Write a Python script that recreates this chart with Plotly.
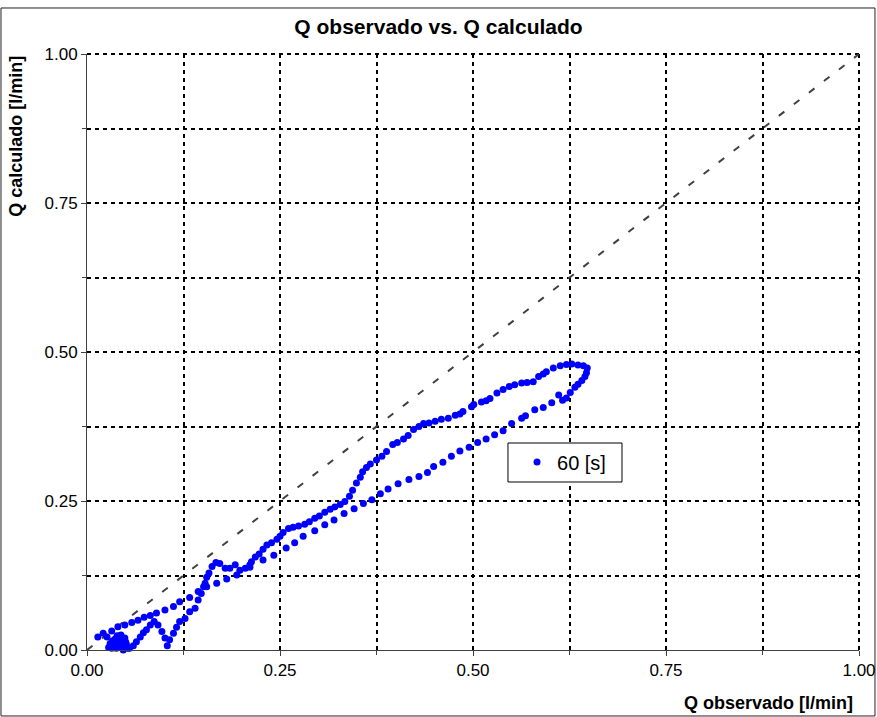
import plotly.graph_objects as go

# Q observado vs. Q calculado, serie "60 [s]"
# rama de subida (puntos espaciados)
obs_up = [0.014, 0.021, 0.032, 0.040, 0.049, 0.058, 0.066, 0.074, 0.082, 0.090,
          0.101, 0.112, 0.120, 0.133, 0.144, 0.155, 0.168, 0.181, 0.194, 0.211,
          0.228, 0.242, 0.258, 0.269, 0.280, 0.295, 0.308, 0.320, 0.333, 0.346,
          0.358, 0.369, 0.380, 0.390, 0.403, 0.417, 0.430, 0.441, 0.449, 0.461,
          0.472, 0.483, 0.495, 0.506, 0.517, 0.528, 0.539, 0.550, 0.563, 0.568,
          0.580, 0.591, 0.602, 0.611, 0.616, 0.621, 0.626, 0.632, 0.636, 0.641,
          0.645, 0.647, 0.648]
calc_up = [0.022, 0.028, 0.032, 0.039, 0.042, 0.046, 0.050, 0.055, 0.058, 0.062,
           0.067, 0.073, 0.081, 0.088, 0.098, 0.106, 0.112, 0.119, 0.126, 0.139,
           0.151, 0.159, 0.171, 0.180, 0.191, 0.200, 0.210, 0.218, 0.229, 0.237,
           0.246, 0.252, 0.262, 0.270, 0.279, 0.286, 0.291, 0.298, 0.308, 0.315,
           0.325, 0.334, 0.340, 0.348, 0.354, 0.361, 0.368, 0.380, 0.389, 0.393,
           0.403, 0.407, 0.415, 0.428, 0.419, 0.423, 0.432, 0.441, 0.446, 0.452,
           0.459, 0.465, 0.473]

# rama de bajada (puntos densos)
obs_down = [0.643, 0.636, 0.628, 0.621, 0.613, 0.604, 0.595, 0.591, 0.585, 0.578,
            0.570, 0.563, 0.554, 0.547, 0.539, 0.531, 0.522, 0.517, 0.511, 0.501,
            0.498, 0.487, 0.483, 0.477, 0.468, 0.459, 0.451, 0.443, 0.436, 0.430,
            0.423, 0.416, 0.410, 0.402, 0.396, 0.388, 0.382, 0.375, 0.367, 0.362,
            0.357, 0.354, 0.349, 0.344, 0.340, 0.334, 0.328, 0.321, 0.315, 0.308,
            0.301, 0.295, 0.288, 0.282, 0.274, 0.267, 0.261, 0.254, 0.250, 0.246,
            0.239, 0.233, 0.228, 0.223, 0.218, 0.213, 0.211, 0.205, 0.198, 0.192,
            0.185, 0.179, 0.172, 0.167, 0.162, 0.158, 0.155, 0.153, 0.151, 0.148,
            0.144, 0.140, 0.133, 0.127, 0.120, 0.116, 0.112, 0.107, 0.104, 0.101,
            0.097, 0.092, 0.087, 0.082, 0.077, 0.073, 0.069, 0.064, 0.060, 0.055,
            0.053, 0.051, 0.049, 0.047, 0.045, 0.041, 0.038, 0.036, 0.034, 0.032,
            0.030, 0.026, 0.028, 0.035, 0.043, 0.050, 0.030, 0.033, 0.037, 0.040,
            0.043, 0.046, 0.048, 0.039, 0.044]
calc_down = [0.477, 0.478, 0.480, 0.479, 0.477, 0.473, 0.467, 0.463, 0.459, 0.450,
             0.449, 0.448, 0.445, 0.442, 0.437, 0.431, 0.422, 0.418, 0.416, 0.412,
             0.408, 0.400, 0.396, 0.394, 0.389, 0.387, 0.384, 0.381, 0.380, 0.375,
             0.370, 0.360, 0.354, 0.348, 0.345, 0.333, 0.325, 0.319, 0.312, 0.306,
             0.299, 0.290, 0.280, 0.268, 0.258, 0.249, 0.244, 0.240, 0.236, 0.231,
             0.225, 0.221, 0.215, 0.211, 0.208, 0.206, 0.204, 0.197, 0.191, 0.186,
             0.180, 0.176, 0.169, 0.161, 0.156, 0.148, 0.143, 0.137, 0.134, 0.143,
             0.137, 0.137, 0.145, 0.147, 0.140, 0.129, 0.122, 0.112, 0.106, 0.095,
             0.084, 0.070, 0.064, 0.053, 0.048, 0.038, 0.028, 0.017, 0.007, 0.020,
             0.031, 0.042, 0.048, 0.042, 0.034, 0.029, 0.022, 0.014, 0.007, 0.003,
             0.003, 0.010, 0.020, 0.000, 0.006, 0.017, 0.003, 0.018, 0.008, 0.003,
             0.011, 0.022, 0.004, 0.012, 0.024, 0.014, 0.008, 0.015, 0.010, 0.004,
             0.012, 0.016, 0.008, 0.024, 0.025]

# recta 1:1
diag = [0.0, 1.0]

x_ticks = [0.0, 0.25, 0.5, 0.75, 1.0]
y_ticks = [0.0, 0.25, 0.5, 0.75, 1.0]

FONT = "Liberation Sans, Arial, sans-serif"
GRID_DASH = "4px,4px"

fig = go.Figure()

fig.add_trace(go.Scatter(
    x=diag, y=diag, mode="lines",
    line=dict(color="#404040", width=2, dash="7px,12px"),
    showlegend=False, hoverinfo="skip",
))

fig.add_trace(go.Scatter(
    x=obs_up + obs_down, y=calc_up + calc_down,
    mode="markers", name="60 [s]",
    marker=dict(color="#0000FF", size=7),
    cliponaxis=False,
))

grid_style = dict(
    range=[0, 1],
    tickvals=x_ticks,
    tickformat=".2f",
    showgrid=True,
    gridcolor="black",
    gridwidth=2,
    griddash=GRID_DASH,
    minor=dict(dtick=0.125, showgrid=True, gridcolor="black", gridwidth=2,
               griddash=GRID_DASH, ticks="outside", ticklen=4, tickcolor="#404040"),
    zeroline=False,
    showline=True,
    linecolor="#404040",
    linewidth=1,
    ticks="outside",
    ticklen=5,
    tickcolor="#404040",
    tickfont=dict(family=FONT, size=17, color="black"),
    automargin=False,
    fixedrange=True,
)

fig.update_xaxes(**grid_style)
fig.update_yaxes(**{**grid_style, "tickvals": y_ticks})

# líneas de rejilla en los bordes superior y derecho del área de trazado
fig.add_shape(type="line", xref="paper", yref="paper", x0=0, x1=1, y0=1, y1=1,
              line=dict(color="black", width=2, dash=GRID_DASH), layer="below")
fig.add_shape(type="line", xref="paper", yref="paper", x0=1, x1=1, y0=0, y1=1,
              line=dict(color="black", width=2, dash=GRID_DASH), layer="below")

# marco del gráfico
fig.add_shape(type="rect", xref="paper", yref="paper",
              x0=-0.1114, x1=1.0207, y0=-0.1107, y1=1.0772,
              line=dict(color="#222222", width=1), layer="below")

# recuadro de la leyenda
fig.add_shape(type="rect", xref="paper", yref="paper",
              x0=0.5453, x1=0.693, y0=0.2819, y1=0.3473,
              line=dict(color="black", width=1), fillcolor="white", layer="above")

fig.add_annotation(
    text="<b>Q calculado [l/min]</b>", textangle=-90,
    xref="paper", yref="paper", x=-0.093, y=1.0,
    xanchor="center", yanchor="top", showarrow=False,
    font=dict(family=FONT, size=18, color="black"),
)
fig.add_annotation(
    text="<b>Q observado [l/min]</b>",
    xref="paper", yref="paper", x=0.995, y=-0.089,
    xanchor="right", yanchor="middle", showarrow=False,
    font=dict(family=FONT, size=18, color="black"),
)

fig.update_layout(
    width=877, height=717,
    margin=dict(l=87, r=18, t=54, b=67),
    paper_bgcolor="white",
    plot_bgcolor="white",
    title=dict(text="<b>Q observado vs. Q calculado</b>",
               xref="container", x=0.5, y=1 - 27 / 717,
               xanchor="center", yanchor="middle",
               font=dict(family=FONT, size=21, color="black")),
    legend=dict(x=0.557, y=0.3154, xanchor="left", yanchor="middle",
                bgcolor="rgba(0,0,0,0)", borderwidth=0,
                font=dict(family=FONT, size=20, color="black"),
                itemwidth=30),
    showlegend=True,
)

fig.write_html("out.html")
